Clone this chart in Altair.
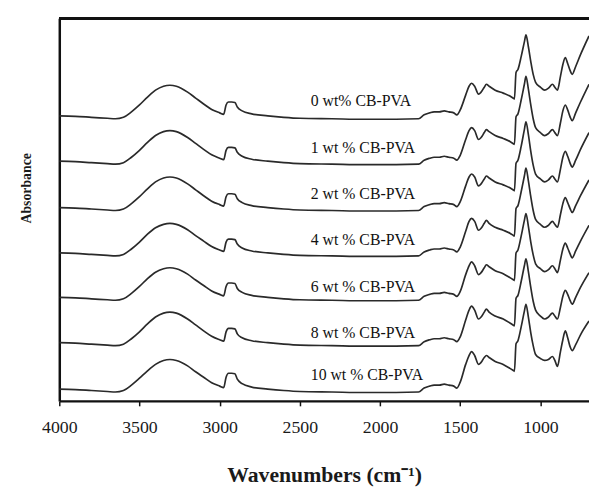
import altair as alt
import pandas as pd

# Wavenumber grid (cm-1)
wavenumber = [4000, 3900, 3800, 3700, 3650, 3600, 3550, 3500, 3450, 3400,
              3350, 3310, 3270, 3200, 3150, 3100, 3050, 3000, 2975, 2960,
              2945, 2925, 2905, 2890, 2860, 2800, 2700, 2600, 2500, 2300,
              2100, 1900, 1760, 1725, 1690, 1663, 1630, 1600, 1571, 1540,
              1521, 1500, 1466, 1445, 1429, 1410, 1386, 1370, 1350, 1337,
              1320, 1282, 1232, 1190, 1171, 1162, 1152, 1140, 1120, 1100,
              1090, 1075, 1060, 1045, 1030, 1000, 974, 950, 925, 910,
              894, 875, 860, 845, 830, 815, 802, 780, 750, 697]

samples = ["0 wt% CB-PVA", "1 wt % CB-PVA", "2 wt % CB-PVA", "4 wt % CB-PVA",
           "6 wt % CB-PVA", "8 wt % CB-PVA", "10 wt % CB-PVA"]

abs_0 = [0.000, -0.005, -0.015, -0.025, -0.030, -0.015, 0.040, 0.110, 0.190, 0.260,
         0.300, 0.310, 0.300, 0.240, 0.180, 0.120, 0.065, 0.030, 0.015, 0.110,
         0.140, 0.140, 0.135, 0.090, 0.050, 0.020, 0.000, -0.015, -0.025, -0.030,
         -0.035, -0.035, -0.030, 0.010, 0.030, 0.040, 0.040, 0.050, 0.040, 0.030,
         0.010, 0.060, 0.210, 0.300, 0.330, 0.300, 0.220, 0.240, 0.290, 0.320,
         0.300, 0.260, 0.230, 0.200, 0.180, 0.170, 0.440, 0.470, 0.600, 0.750,
         0.820, 0.700, 0.550, 0.420, 0.340, 0.290, 0.260, 0.280, 0.320, 0.290,
         0.260, 0.400, 0.520, 0.590, 0.530, 0.460, 0.420, 0.500, 0.620, 0.810]

abs_1 = [0.000, -0.005, -0.015, -0.025, -0.030, -0.015, 0.040, 0.110, 0.190, 0.260,
         0.300, 0.310, 0.300, 0.240, 0.180, 0.120, 0.065, 0.030, 0.015, 0.110,
         0.140, 0.140, 0.135, 0.090, 0.050, 0.020, 0.000, -0.015, -0.025, -0.030,
         -0.035, -0.035, -0.030, 0.010, 0.030, 0.040, 0.040, 0.050, 0.040, 0.030,
         0.010, 0.060, 0.220, 0.310, 0.340, 0.310, 0.220, 0.240, 0.290, 0.320,
         0.300, 0.260, 0.230, 0.200, 0.180, 0.170, 0.450, 0.480, 0.620, 0.780,
         0.860, 0.730, 0.570, 0.430, 0.340, 0.290, 0.260, 0.280, 0.320, 0.290,
         0.260, 0.390, 0.510, 0.570, 0.520, 0.450, 0.410, 0.490, 0.600, 0.780]

abs_2 = [0.000, -0.005, -0.015, -0.025, -0.030, -0.015, 0.040, 0.110, 0.190, 0.260,
         0.300, 0.310, 0.300, 0.240, 0.180, 0.120, 0.065, 0.030, 0.015, 0.110,
         0.140, 0.140, 0.135, 0.090, 0.050, 0.020, 0.000, -0.015, -0.025, -0.030,
         -0.035, -0.035, -0.030, 0.010, 0.030, 0.040, 0.040, 0.050, 0.040, 0.030,
         0.010, 0.060, 0.220, 0.310, 0.340, 0.310, 0.220, 0.240, 0.290, 0.320,
         0.300, 0.260, 0.230, 0.200, 0.180, 0.170, 0.450, 0.480, 0.620, 0.790,
         0.870, 0.740, 0.570, 0.430, 0.340, 0.290, 0.260, 0.280, 0.320, 0.290,
         0.260, 0.390, 0.510, 0.570, 0.520, 0.450, 0.410, 0.480, 0.590, 0.760]

abs_4 = [0.000, -0.005, -0.015, -0.025, -0.030, -0.015, 0.040, 0.110, 0.190, 0.255,
         0.290, 0.300, 0.290, 0.235, 0.175, 0.120, 0.065, 0.030, 0.015, 0.110,
         0.140, 0.140, 0.135, 0.090, 0.050, 0.020, 0.000, -0.015, -0.025, -0.030,
         -0.035, -0.035, -0.030, 0.010, 0.030, 0.040, 0.040, 0.050, 0.040, 0.030,
         0.010, 0.060, 0.220, 0.320, 0.350, 0.320, 0.230, 0.250, 0.300, 0.330,
         0.300, 0.260, 0.230, 0.200, 0.180, 0.170, 0.450, 0.480, 0.620, 0.780,
         0.860, 0.730, 0.570, 0.430, 0.340, 0.290, 0.260, 0.280, 0.320, 0.290,
         0.260, 0.390, 0.500, 0.560, 0.510, 0.450, 0.410, 0.480, 0.580, 0.740]

abs_6 = [0.000, -0.005, -0.015, -0.025, -0.030, -0.015, 0.040, 0.110, 0.190, 0.255,
         0.290, 0.300, 0.290, 0.235, 0.175, 0.120, 0.065, 0.030, 0.015, 0.110,
         0.145, 0.145, 0.140, 0.090, 0.050, 0.020, 0.000, -0.015, -0.025, -0.030,
         -0.035, -0.035, -0.030, 0.010, 0.030, 0.040, 0.040, 0.050, 0.040, 0.030,
         0.010, 0.060, 0.230, 0.320, 0.360, 0.320, 0.230, 0.250, 0.300, 0.330,
         0.310, 0.270, 0.240, 0.200, 0.180, 0.170, 0.450, 0.480, 0.620, 0.780,
         0.850, 0.720, 0.560, 0.430, 0.340, 0.290, 0.260, 0.280, 0.320, 0.290,
         0.250, 0.380, 0.490, 0.550, 0.500, 0.440, 0.400, 0.470, 0.570, 0.730]

abs_8 = [0.000, -0.005, -0.015, -0.025, -0.030, -0.015, 0.040, 0.110, 0.190, 0.260,
         0.300, 0.310, 0.300, 0.240, 0.180, 0.120, 0.065, 0.030, 0.015, 0.110,
         0.145, 0.145, 0.140, 0.090, 0.050, 0.020, 0.000, -0.015, -0.025, -0.030,
         -0.035, -0.035, -0.030, 0.010, 0.030, 0.040, 0.040, 0.050, 0.040, 0.030,
         0.010, 0.060, 0.230, 0.330, 0.370, 0.330, 0.240, 0.260, 0.310, 0.340,
         0.310, 0.270, 0.240, 0.200, 0.180, 0.170, 0.450, 0.480, 0.620, 0.780,
         0.850, 0.720, 0.560, 0.420, 0.330, 0.270, 0.240, 0.260, 0.300, 0.270,
         0.240, 0.360, 0.470, 0.530, 0.490, 0.430, 0.390, 0.460, 0.560, 0.710]

abs_10 = [0.000, -0.005, -0.015, -0.025, -0.030, -0.015, 0.040, 0.110, 0.185, 0.250,
          0.290, 0.300, 0.290, 0.235, 0.175, 0.120, 0.065, 0.030, 0.015, 0.120,
          0.160, 0.160, 0.155, 0.100, 0.055, 0.020, 0.000, -0.015, -0.025, -0.030,
          -0.035, -0.035, -0.030, 0.010, 0.030, 0.040, 0.040, 0.050, 0.040, 0.030,
          0.010, 0.070, 0.250, 0.340, 0.380, 0.340, 0.250, 0.270, 0.320, 0.340,
          0.320, 0.280, 0.250, 0.210, 0.190, 0.180, 0.460, 0.490, 0.630, 0.790,
          0.860, 0.730, 0.570, 0.440, 0.350, 0.310, 0.290, 0.300, 0.330, 0.290,
          0.230, 0.380, 0.500, 0.590, 0.520, 0.430, 0.390, 0.450, 0.550, 0.690]

spectra = [abs_0, abs_1, abs_2, abs_4, abs_6, abs_8, abs_10]

# vertical stacking offsets of the spectra (a.u.)
offsets = [2.89, 2.43, 1.96, 1.50, 1.05, 0.59, 0.12]

# label anchors (data units)
label_wn = [2432, 2432, 2432, 2432, 2432, 2432, 2432]
label_y = [3.04, 2.56, 2.10, 1.63, 1.15, 0.69, 0.26]

x_ticks = [4000, 3500, 3000, 2500, 2000, 1500, 1000]

rows = []
for name, spec, off in zip(samples, spectra, offsets):
    for w, a in zip(wavenumber, spec):
        rows.append({"sample": name, "wn": w, "absorbance": a + off})
df = pd.DataFrame(rows)

labels = pd.DataFrame({"sample": samples, "wn": label_wn, "absorbance": label_y})

W = 537
H = 388

xscale = alt.Scale(domain=[697, 4000], reverse=True, zero=False, nice=False)
yscale = alt.Scale(domain=[0, 3.88], zero=False, nice=False)

x_axis = alt.Axis(values=x_ticks, format="d", grid=False, tickSize=5, tickWidth=1.5,
                  tickColor="#111", domainWidth=2.5, domainColor="#111",
                  labelFont="Liberation Serif", labelFontSize=18, labelColor="#1a1a1a",
                  labelPadding=13, labelFlush=False, labelOverlap=False,
                  title="Wavenumbers (cm\u207b\u00b9)",
                  titleFont="Liberation Serif", titleFontSize=22, titleFontWeight="bold",
                  titleColor="#1a1a1a", titlePadding=29)
y_axis = alt.Axis(grid=False, ticks=False, labels=False, domainWidth=2.5,
                  domainColor="#111", title="Absorbance", titleFont="Liberation Serif",
                  titleFontSize=14, titleFontWeight="bold", titleColor="#1a1a1a",
                  titlePadding=26, titleY=172)

lines = alt.Chart(df).mark_line(color="#2a2a2a", strokeWidth=1.7,
                                interpolate="monotone", clip=True).encode(
    x=alt.X("wn:Q", scale=xscale, axis=x_axis),
    y=alt.Y("absorbance:Q", scale=yscale, axis=y_axis),
    detail="sample:N",
    order=alt.Order("wn:Q", sort="descending"),
)

text = alt.Chart(labels).mark_text(align="left", baseline="middle",
                                   font="Liberation Serif", fontSize=16,
                                   color="#111").encode(
    x=alt.X("wn:Q", scale=xscale),
    y=alt.Y("absorbance:Q", scale=yscale),
    text="sample:N",
)

top_border = alt.Chart(labels).mark_rule(color="#111", strokeWidth=2.5).encode(
    x=alt.value(0), x2=alt.value(W), y=alt.value(0)
)

chart = alt.layer(lines, text, top_border).properties(
    width=W, height=H,
    autosize=alt.AutoSizeParams(type="none"),
    padding={"left": 52, "top": 7, "right": 0, "bottom": 85},
).configure_view(strokeWidth=0)

chart.save("out.html", embed_options={"renderer": "svg", "actions": False})
